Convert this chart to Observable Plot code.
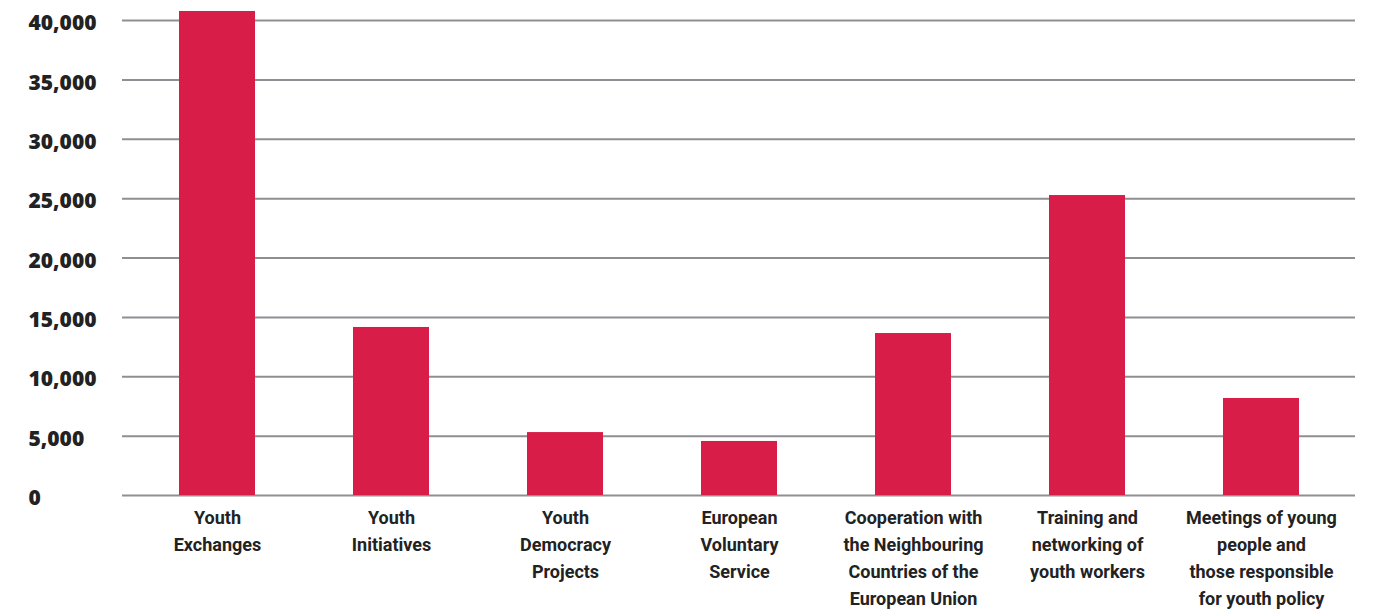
<!DOCTYPE html>
<html>
<head>
<meta charset="utf-8">
<script src="https://cdn.jsdelivr.net/npm/d3@7"></script>
<script src="https://cdn.jsdelivr.net/npm/@observablehq/plot@0.6"></script>
<style>
  html, body { margin: 0; padding: 0; background: #fff; }
  #chart svg { display: block; }
</style>
</head>
<body>
<div id="chart"></div>
<script>
const categories = [
  "Youth\nExchanges",
  "Youth\nInitiatives",
  "Youth\nDemocracy\nProjects",
  "European\nVoluntary\nService",
  "Cooperation with\nthe Neighbouring\nCountries of the\nEuropean Union",
  "Training and\nnetworking of\nyouth workers",
  "Meetings of young\npeople and\nthose responsible\nfor youth policy"
];
const values = [40760, 14150, 5300, 4550, 13640, 25260, 8170];
const yTicks = [0, 5000, 10000, 15000, 20000, 25000, 30000, 35000, 40000];
const yTickLabels = ["0", "5,000", "10,000", "15,000", "20,000", "25,000", "30,000", "35,000", "40,000"];

const data = categories.map((c, i) => ({category: c, value: values[i]}));
const tickData = yTicks.map((t, i) => ({value: t, label: yTickLabels[i]}));

const chart = Plot.plot({
  width: 1378,
  height: 612,
  marginLeft: 122,
  marginRight: 23,
  marginTop: 20,
  marginBottom: 117,
  style: {fontFamily: "Roboto, 'Open Sans', sans-serif", background: "#fff"},
  x: {domain: categories, paddingInner: 0.565, paddingOuter: 0.315, axis: null},
  y: {domain: [0, 40000], axis: null},
  marks: [
    Plot.ruleY(tickData, {y: "value", stroke: "#8f8f93", strokeWidth: 2}),
    Plot.barY(data, {x: "category", y: "value", fill: "#d81e48"}),
    Plot.text(tickData, {
      y: "value", text: "label", frameAnchor: "left", dx: -94, dy: 3,
      textAnchor: "start", fontSize: 21, fontWeight: 800, fill: "#222",
      fontFamily: "'Open Sans', sans-serif"
    }),
    Plot.text(data, {
      x: "category", y: 0, text: "category", lineAnchor: "top", dy: 9,
      lineHeight: 1.5, fontSize: 18, fontWeight: "bold", fill: "#222"
    })
  ]
});
document.getElementById("chart").appendChild(chart);
</script>
</body>
</html>
